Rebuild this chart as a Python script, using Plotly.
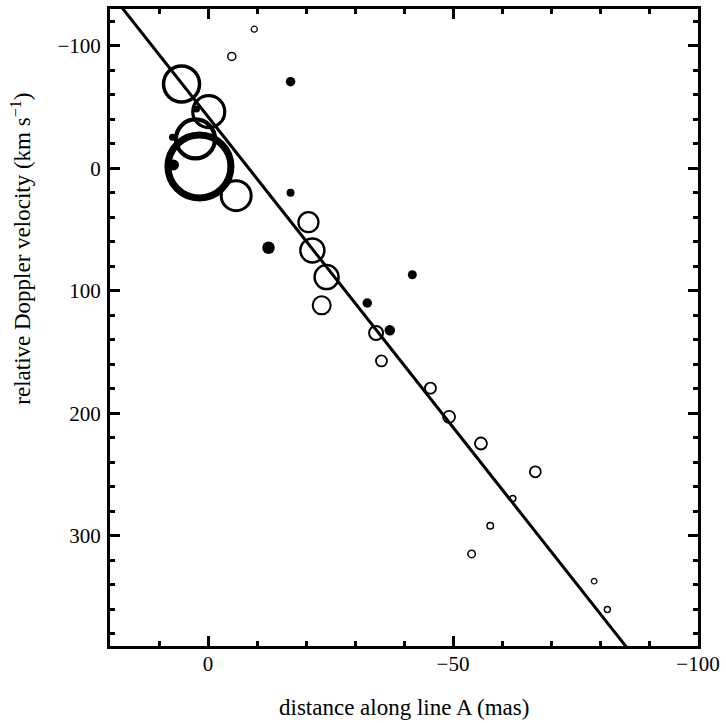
import numpy as np
import plotly.graph_objects as go

# open circles: distance (mas), velocity (km/s)
open_d = [-9.45, -4.85, 5.4, -0.15, 2.55, 1.75, -5.75, -20.5, -21.3, -24.2, -23.2,
          -34.3, -35.4, -45.4, -49.2, -55.7, -66.8, -62.2, -57.6, -53.8, -78.8, -81.5]
open_v = [-113.5, -91.3, -68.7, -46.2, -23.9, -1.4, 22.4, 44.0, 67.1, 88.8, 111.9,
          134.5, 157.3, 179.5, 202.9, 224.7, 247.8, 269.5, 291.8, 314.8, 337.1, 360.2]

# filled dots
fill_d = [-16.85, 2.35, 7.25, 7.05, -16.85, -12.35, -41.7, -32.5, -37.1]
fill_v = [-70.7, -48.3, -25.3, -2.7, 20.1, 64.9, 86.9, 110.0, 132.3]

# linear fit: v = fit_a + fit_b * d
fit_a = -42.1
fit_b = -5.07

# marker styling (diameters / stroke widths in px)
open_px = [6, 8, 36, 32, 39, 63, 30, 20, 24, 24, 18, 14, 11, 11, 12, 12, 11, 6, 6.5, 7.5, 5.5, 6]
open_lw = [1.2, 1.5, 3.5, 3.2, 4.2, 7, 3, 2.3, 2.5, 2.5, 2, 2, 1.8, 1.8, 1.8, 1.8, 1.8, 1.5, 1.5, 1.5, 1.3, 1.4]
fill_px = [9.5, 7, 7, 11, 8, 12.5, 9, 9.5, 10.5]

x_range = [20, -100]
y_range = [390, -130]

font = "Liberation Serif, Times New Roman, serif"

fig = go.Figure()

line_d = np.array(x_range, dtype=float)
line_v = fit_a + fit_b * line_d
fig.add_trace(go.Scatter(x=line_d, y=line_v, mode="lines",
                         line=dict(color="black", width=3), showlegend=False,
                         hoverinfo="skip"))

fig.add_trace(go.Scatter(x=open_d, y=open_v, mode="markers",
                         marker=dict(symbol="circle-open", size=open_px, color="black", opacity=1,
                                     line=dict(color="black", width=open_lw)),
                         showlegend=False, cliponaxis=True))

fig.add_trace(go.Scatter(x=fill_d, y=fill_v, mode="markers",
                         marker=dict(symbol="circle", size=fill_px, color="black", opacity=1,
                                     line=dict(width=0)),
                         showlegend=False, cliponaxis=True))

axis_common = dict(
    showline=True, linecolor="black", linewidth=3, mirror="ticks",
    ticks="inside", ticklen=10, tickwidth=2.5, tickcolor="black",
    showgrid=False, zeroline=False,
    tickfont=dict(family=font, size=21, color="black"),
)

fig.update_xaxes(range=x_range, tick0=0, dtick=50,
                 minor=dict(dtick=10, ticks="inside", ticklen=5, tickwidth=2.5, tickcolor="black"),
                 ticklabelstandoff=-3,
                 **axis_common)
fig.update_yaxes(range=y_range, tick0=0, dtick=100,
                 minor=dict(dtick=20, ticks="inside", ticklen=5, tickwidth=2.5, tickcolor="black"),
                 ticklabelstandoff=2,
                 **axis_common)

fig.add_annotation(text="distance along line A (mas)", xref="paper", yref="paper",
                   x=0.5, y=-0.097, xanchor="center", yanchor="middle", showarrow=False,
                   font=dict(family=font, size=23, color="black"))
fig.add_annotation(text="relative Doppler velocity (km s<sup>−1</sup>)", xref="paper", yref="paper",
                   x=-0.151, y=0.624, xanchor="center", yanchor="middle", showarrow=False,
                   textangle=-90, font=dict(family=font, size=23, color="black"))

fig.update_layout(width=726, height=723,
                  margin=dict(l=110, r=26, t=6, b=77),
                  paper_bgcolor="white", plot_bgcolor="white",
                  font=dict(family=font, size=21, color="black"))

fig.write_html("out.html")
